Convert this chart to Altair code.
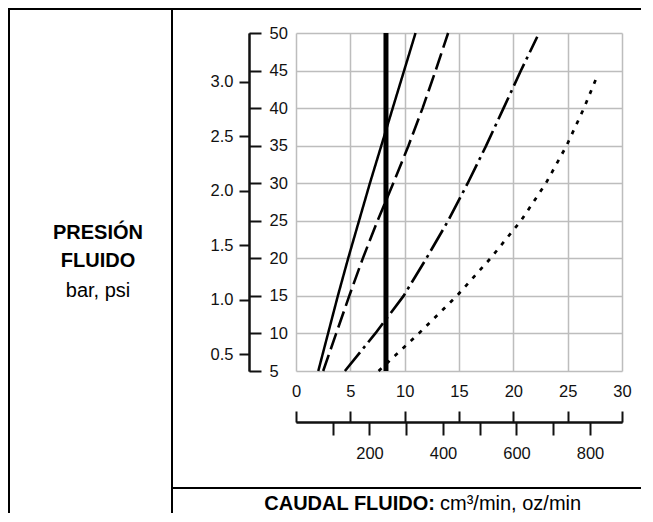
import altair as alt
import pandas as pd

# ---- data ----
PSI_PER_BAR = 14.5
CM3_PER_OZ = 29.57

series_names = ["s1", "s2", "s3", "s4"]

psi_s1 = [5, 10, 15, 20, 25, 30, 35, 40, 45, 50]
oz_s1 = [2.05, 2.95, 3.85, 4.8, 5.8, 6.8, 7.85, 8.9, 9.95, 11.0]

psi_s2 = [5, 10, 15, 20, 25, 30, 35, 40, 45, 50]
oz_s2 = [2.5, 3.7, 4.9, 6.15, 7.5, 8.95, 10.35, 11.65, 12.85, 14.0]

psi_s3 = [5, 10, 15, 20, 25, 30, 35, 40, 45, 49.5]
oz_s3 = [4.5, 7.3, 9.9, 12.0, 14.0, 15.8, 17.5, 19.1, 20.7, 22.2]

psi_s4 = [5, 10, 15, 20, 25, 30, 35, 40, 44.2]
oz_s4 = [7.6, 11.3, 14.8, 17.9, 20.7, 23.0, 24.9, 26.5, 27.7]

thick_oz = [8.28]
psi_domain = [5, 50]
oz_domain = [0, 30]

oz_ticks = [0, 5, 10, 15, 20, 25, 30]
psi_ticks = [5, 10, 15, 20, 25, 30, 35, 40, 45, 50]
bar_ticks = [0.5, 1.0, 1.5, 2.0, 2.5, 3.0]
cm3_ticks = [100, 200, 300, 400, 500, 600, 700, 800]

# ---- styling ----
FONT = "Liberation Sans"
W, H = 326, 338
dash_range = [[1, 0], [17, 6], [24, 5, 3, 5], [4, 7]]
width_range = [2.5, 2.7, 2.8, 3.6]
GRID = "#bdbdbd"

frames = []
for name, oz, psi in zip(series_names, [oz_s1, oz_s2, oz_s3, oz_s4],
                         [psi_s1, psi_s2, psi_s3, psi_s4]):
    frames.append(pd.DataFrame({"series": name, "oz": oz, "psi": psi}))
df = pd.concat(frames, ignore_index=True)

oz_scale = alt.Scale(domain=oz_domain, nice=False, zero=False)
psi_scale = alt.Scale(domain=psi_domain, nice=False, zero=False)
bar_scale = alt.Scale(domain=[psi_domain[0] / PSI_PER_BAR, psi_domain[1] / PSI_PER_BAR], nice=False, zero=False)
cm3_scale = alt.Scale(domain=[oz_domain[0] * CM3_PER_OZ, oz_domain[1] * CM3_PER_OZ], nice=False, zero=False)

common_axis = dict(labelFont=FONT, labelFontSize=16.5, labelColor="#111", tickColor="#111",
                   domainColor="#111", tickWidth=2, domainWidth=2, title=None, labelFlush=False,
                   labelOverlap=False)

lines = alt.Chart(df).mark_line(color="black").encode(
    x=alt.X("oz:Q", scale=oz_scale,
            axis=alt.Axis(orient="bottom", values=oz_ticks, grid=True, gridColor=GRID, gridWidth=1.5,
                          domain=False, ticks=False, labelPadding=12, **common_axis)),
    y=alt.Y("psi:Q", scale=psi_scale,
            axis=alt.Axis(orient="left", values=psi_ticks, grid=True, gridColor=GRID, gridWidth=1.5,
                          domain=False, ticks=False, labels=False, title=None)),
    detail="series:N",
    strokeDash=alt.StrokeDash("series:N", scale=alt.Scale(domain=series_names, range=dash_range), legend=None),
    strokeWidth=alt.StrokeWidth("series:N", scale=alt.Scale(domain=series_names, range=width_range), legend=None),
)

thick = alt.Chart(pd.DataFrame({"oz": thick_oz, "lo": [psi_domain[0]], "hi": [psi_domain[1]]})).mark_rule(
    color="black", strokeWidth=5).encode(
    x=alt.X("oz:Q", scale=oz_scale, axis=None),
    y=alt.Y("lo:Q", scale=psi_scale, axis=None),
    y2="hi:Q",
)

psi_axis_layer = alt.Chart(pd.DataFrame({"psi": psi_ticks, "oz": [0] * len(psi_ticks)})).mark_point(opacity=0).encode(
    x=alt.X("oz:Q", scale=oz_scale,
            axis=alt.Axis(orient="top", offset=-389, values=oz_ticks, labels=False, tickSize=11,
                          grid=False, **common_axis)),
    y=alt.Y("psi:Q", scale=psi_scale,
            axis=alt.Axis(orient="right", offset=-(W + 47), values=psi_ticks, tickSize=12, labelPadding=8,
                          grid=False, **common_axis)),
)

bar_axis_layer = alt.Chart(pd.DataFrame({"bar": [bar_ticks[0], bar_ticks[-1]],
                                         "cm3": [cm3_ticks[0], cm3_ticks[-1]]})).mark_point(opacity=0).encode(
    x=alt.X("cm3:Q", scale=cm3_scale,
            axis=alt.Axis(orient="bottom", offset=51, values=cm3_ticks, tickSize=13, labelPadding=10,
                          labelExpr="datum.value % 200 === 0 ? datum.label : ''", grid=False, **common_axis)),
    y=alt.Y("bar:Q", scale=bar_scale,
            axis=alt.Axis(orient="left", offset=47, values=bar_ticks, tickSize=10, labelPadding=6,
                          format=".1f", grid=False, **common_axis)),
)

one = pd.DataFrame({"k": [0]})


def hrule(x1, x2, y):
    return alt.Chart(one).mark_rule(color="black", strokeWidth=2).encode(
        x=alt.value(x1), x2=alt.value(x2), y=alt.value(y))


def vrule(x, y1, y2):
    return alt.Chart(one).mark_rule(color="black", strokeWidth=2).encode(
        x=alt.value(x), y=alt.value(y1), y2=alt.value(y2))


def label(txt, x, y, bold=False, align="center"):
    return alt.Chart(one).mark_text(text=txt, font=FONT, fontSize=20, color="black",
                                    fontWeight="bold" if bold else "normal",
                                    align=align, baseline="middle").encode(
        x=alt.value(x), y=alt.value(y))


deco = [
    hrule(-288, 345, -24),
    vrule(-287, -25, 490),
    vrule(-124, -25, 490),
    hrule(-124, 345, 455),
    label("PRESIÓN", -198, 200, bold=True),
    label("FLUIDO", -198, 228, bold=True),
    label("bar, psi", -198, 258),
    label("CAUDAL FLUIDO:", 139, 471, bold=True, align="right"),
    label("cm³/min, oz/min", 144, 471, align="left"),
]

chart = alt.layer(lines, thick, psi_axis_layer, bar_axis_layer, *deco).resolve_scale(
    x="independent", y="independent"
).properties(
    width=W, height=H, autosize="none",
    padding={"left": 288, "top": 25, "right": 23, "bottom": 142},
).configure_view(strokeWidth=0)

chart.save("out.html", embed_options={"renderer": "svg", "actions": False})
